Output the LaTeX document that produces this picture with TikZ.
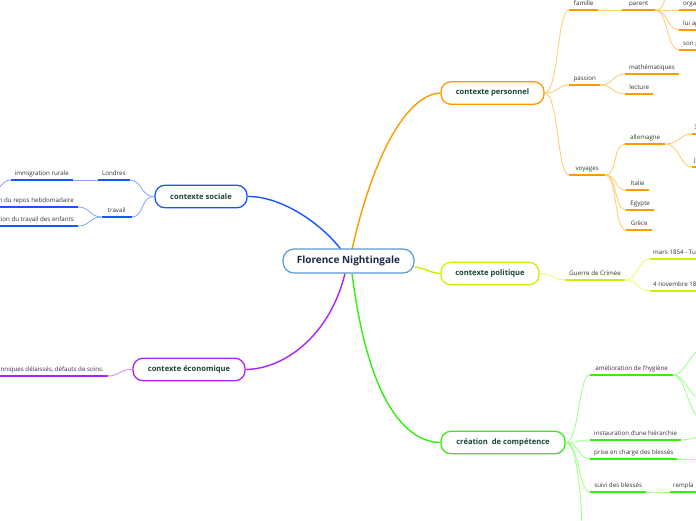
\documentclass[tikz,border=0pt]{standalone}
\usepackage{fontspec}
\setmainfont{Open Sans}
\definecolor{txt}{HTML}{333333}
\definecolor{mtxt}{HTML}{1B4536}
\definecolor{ctxt}{HTML}{1A2A4A}
\definecolor{cbord}{HTML}{5A9AD0}
\definecolor{ora}{HTML}{FF9900}
\definecolor{oral}{HTML}{FFCC77}
\definecolor{yel}{HTML}{CCF000}
\definecolor{yell}{HTML}{E2FF70}
\definecolor{gre}{HTML}{33EE11}
\definecolor{grel}{HTML}{A0FF90}
\definecolor{blu}{HTML}{1655FF}
\definecolor{blul}{HTML}{8AAAFF}
\definecolor{pur}{HTML}{AA22FF}
\definecolor{purl}{HTML}{D090FF}
\pgfdeclarelayer{bg}
\pgfsetlayers{bg,main}
\tikzset{
  central/.style={draw=cbord, line width=1.2pt, rounded corners=11pt, fill=white,
    minimum width=131pt, minimum height=24pt, text=ctxt, font=\fontsize{10}{12}\selectfont\bfseries},
  mainnode/.style={draw=#1, line width=1.3pt, rounded corners=10pt, fill=white,
    minimum height=22.5pt, text=mtxt, font=\fontsize{7.6}{9}\selectfont\bfseries},
  leaf/.style={font=\fontsize{6.2}{8}\selectfont, text=txt, inner xsep=4pt, inner ysep=3pt,
    text height=5pt, text depth=1.5pt, anchor=south west},
  leafr/.style={leaf, anchor=south east},
  ul/.style={line width=1.8pt, #1},
  cn/.style={line width=0.9pt, #1},
  br/.style={line width=1.4pt, #1},
}
\begin{document}
\begin{tikzpicture}[x=1pt,y=-1pt]
\useasboundingbox (0,0) rectangle (696,520);
\clip (0,0) rectangle (696,520);
% main nodes
\node[central] (fn) at (348.5,261) {Florence Nightingale};
\node[mainnode=ora, minimum width=103pt] (pers) at (492.5,93) {contexte personnel};
\node[mainnode=yel, minimum width=98pt] (pol) at (490,273.5) {contexte politique};
\node[mainnode=gre, minimum width=124pt] (crea) at (503,442.5) {création\ \ de compétence};
\node[mainnode=blu, minimum width=92pt] (soc) at (201,196.5) {contexte sociale};
\node[mainnode=pur, minimum width=112pt] (eco) at (189,369.5) {contexte économique};
% orange leaves
\node[leaf, minimum width=29pt] (famille) at (569,10) {famille};
\node[leaf, minimum width=33pt] (parent) at (622,10) {parent};
\node[leaf] (organ) at (679,10) {organ};
\node[leaf] (luiapp) at (679,30) {lui app};
\node[leaf] (sonpe) at (679,50) {son pè};
\coordinate (ptop) at (668,-12);
\node[leaf, minimum width=31pt] (passion) at (569,85) {passion};
\node[leaf, minimum width=52pt] (math) at (625,74) {mathématiques};
\node[leaf, minimum width=28pt] (lecture) at (625,94) {lecture};
\node[leaf, minimum width=36pt] (voyages) at (569,175) {voyages};
\node[leaf, minimum width=40pt] (allem) at (625,144) {allemagne};
\node[leaf, inner xsep=2pt] (trois) at (692,134) {3};
\node[leaf, inner xsep=2pt] (jota) at (692,167) {J};
\node[leaf, minimum width=23pt] (italie) at (626,190) {Italie};
\node[leaf, minimum width=28pt] (egypte) at (626,210) {Egypte};
\node[leaf, minimum width=26pt] (grece) at (626,230) {Grèce};
% yellow leaves
\node[leaf, minimum width=60pt] (guerre) at (565,280) {Guerre de Crimée};
\node[leaf, inner xsep=3pt] (mars) at (650,259) {mars 1854 - Tu};
\node[leaf, inner xsep=3pt] (nov) at (650,291) {4 novembre 18};
% green leaves
\node[leaf, minimum width=83pt] (hyg) at (590,375) {amélioration de l'hygiène};
\node[leaf, minimum width=90pt] (hier) at (590,440) {instauration d'une hiérarchie};
\node[leaf, minimum width=87pt] (prise) at (590,459) {prise en charge des blessés};
\node[leaf, minimum width=56pt] (suivi) at (590,492) {suivi des blessés};
\node[leaf, inner xsep=3pt] (rempla) at (670,492) {rempla};
\coordinate (gdown) at (582,535);
\coordinate (h1) at (702,350);
\coordinate (h2) at (702,399);
\coordinate (h3) at (702,419);
\coordinate (hierend) at (702,437);
\coordinate (priseend) at (702,459);
% blue leaves
\node[leafr, minimum width=32pt] (londres) at (130,180) {Londres};
\node[leafr, minimum width=61pt] (immig) at (73,180) {immigration rurale};
\coordinate (immoff) at (-6,190);
\node[leafr, minimum width=30pt] (travail) at (132,217) {travail};
\node[leafr, minimum width=82pt] (repos) at (78,207) {on du repos hebdomadaire};
\node[leafr, minimum width=82pt] (enfants) at (78,226) {ation du travail des enfants};
% purple leaf
\node[leafr, minimum width=112pt] (soins) at (108,376) {anniques délaissés, défauts de soins.};

\begin{pgfonlayer}{bg}
% main branches
\draw[br=ora] (352,249.5) .. controls (372,160) and (405,95) .. (pers.west);
\draw[br=blu] (341,249.5) .. controls (320,222) and (280,196) .. (soc.east);
\draw[br=pur] (345,273.5) .. controls (330,335) and (285,369) .. (eco.east);
\draw[br=gre] (352,273.5) .. controls (368,400) and (405,442) .. (crea.west);
\draw[br=yel] (fn.east) ++(0,6) .. controls (425,268) and (430,273) .. (pol.west);

% orange connectors
\draw[cn=oral] (pers.east) .. controls +(14,0) and +(-12,0) .. (famille.south west);
\draw[cn=oral] (pers.east) .. controls +(14,0) and +(-12,0) .. (passion.south west);
\draw[cn=oral] (pers.east) .. controls +(14,0) and +(-12,0) .. (voyages.south west);
\draw[cn=oral] (famille.south east) -- (parent.south west);
\foreach \t in {organ,luiapp,sonpe}
  \draw[cn=oral] (parent.south east) .. controls +(12,0) and +(-12,0) .. (\t.south west);
\draw[cn=oral] (parent.south east) .. controls +(10,0) and +(-4,8) .. (ptop);
\foreach \t in {math,lecture}
  \draw[cn=oral] (passion.south east) .. controls +(12,0) and +(-12,0) .. (\t.south west);
\foreach \t in {allem,italie,egypte,grece}
  \draw[cn=oral] (voyages.south east) .. controls +(12,0) and +(-12,0) .. (\t.south west);
\foreach \t in {trois,jota}
  \draw[cn=oral] (allem.south east) .. controls +(14,0) and +(-12,0) .. (\t.south west);
% yellow connectors
\draw[cn=yell] (pol.east) .. controls +(14,0) and +(-12,0) .. (guerre.south west);
\foreach \t in {mars,nov}
  \draw[cn=yell] (guerre.south east) .. controls +(12,0) and +(-12,0) .. (\t.south west);
% green connectors
\foreach \t in {hyg,hier,prise,suivi}
  \draw[cn=grel] (crea.east) .. controls +(14,0) and +(-12,0) .. (\t.south west);
\draw[cn=grel] (crea.east) .. controls +(12,0) and +(0,-30) .. (gdown);
\foreach \t in {h1,h2,h3}
  \draw[cn=grel] (hyg.south east) .. controls +(12,0) and +(-12,0) .. (\t);
\draw[cn=grel] (hier.south east) .. controls +(8,0) and +(-8,0) .. (hierend);
\draw[cn=grel] (prise.south east) -- (priseend);
\draw[cn=grel] (suivi.south east) -- (rempla.south west);
% blue connectors
\foreach \t in {londres,travail}
  \draw[cn=blul] (soc.west) .. controls +(-14,0) and +(12,0) .. (\t.south east);
\draw[cn=blul] (londres.south west) -- (immig.south east);
\draw[cn=blul] (immig.south west) .. controls +(-8,0) and +(6,0) .. (immoff);
\foreach \t in {repos,enfants}
  \draw[cn=blul] (travail.south west) .. controls +(-12,0) and +(12,0) .. (\t.south east);
% purple connector
\draw[cn=purl] (eco.west) .. controls +(-14,0) and +(12,0) .. (soins.south east);

% underlines
\foreach \n in {famille,parent,organ,luiapp,sonpe,passion,math,lecture,voyages,allem,trois,jota,italie,egypte,grece}
  \draw[ul=ora] (\n.south west) -- (\n.south east);
\foreach \n in {guerre,mars,nov}
  \draw[ul=yel] (\n.south west) -- (\n.south east);
\foreach \n in {hyg,hier,prise,suivi,rempla}
  \draw[ul=gre] (\n.south west) -- (\n.south east);
\foreach \n in {londres,immig,travail,repos,enfants}
  \draw[ul=blu] (\n.south west) -- (\n.south east);
\draw[ul=pur] (soins.south west) -- (soins.south east);
\end{pgfonlayer}
\end{tikzpicture}
\end{document}
